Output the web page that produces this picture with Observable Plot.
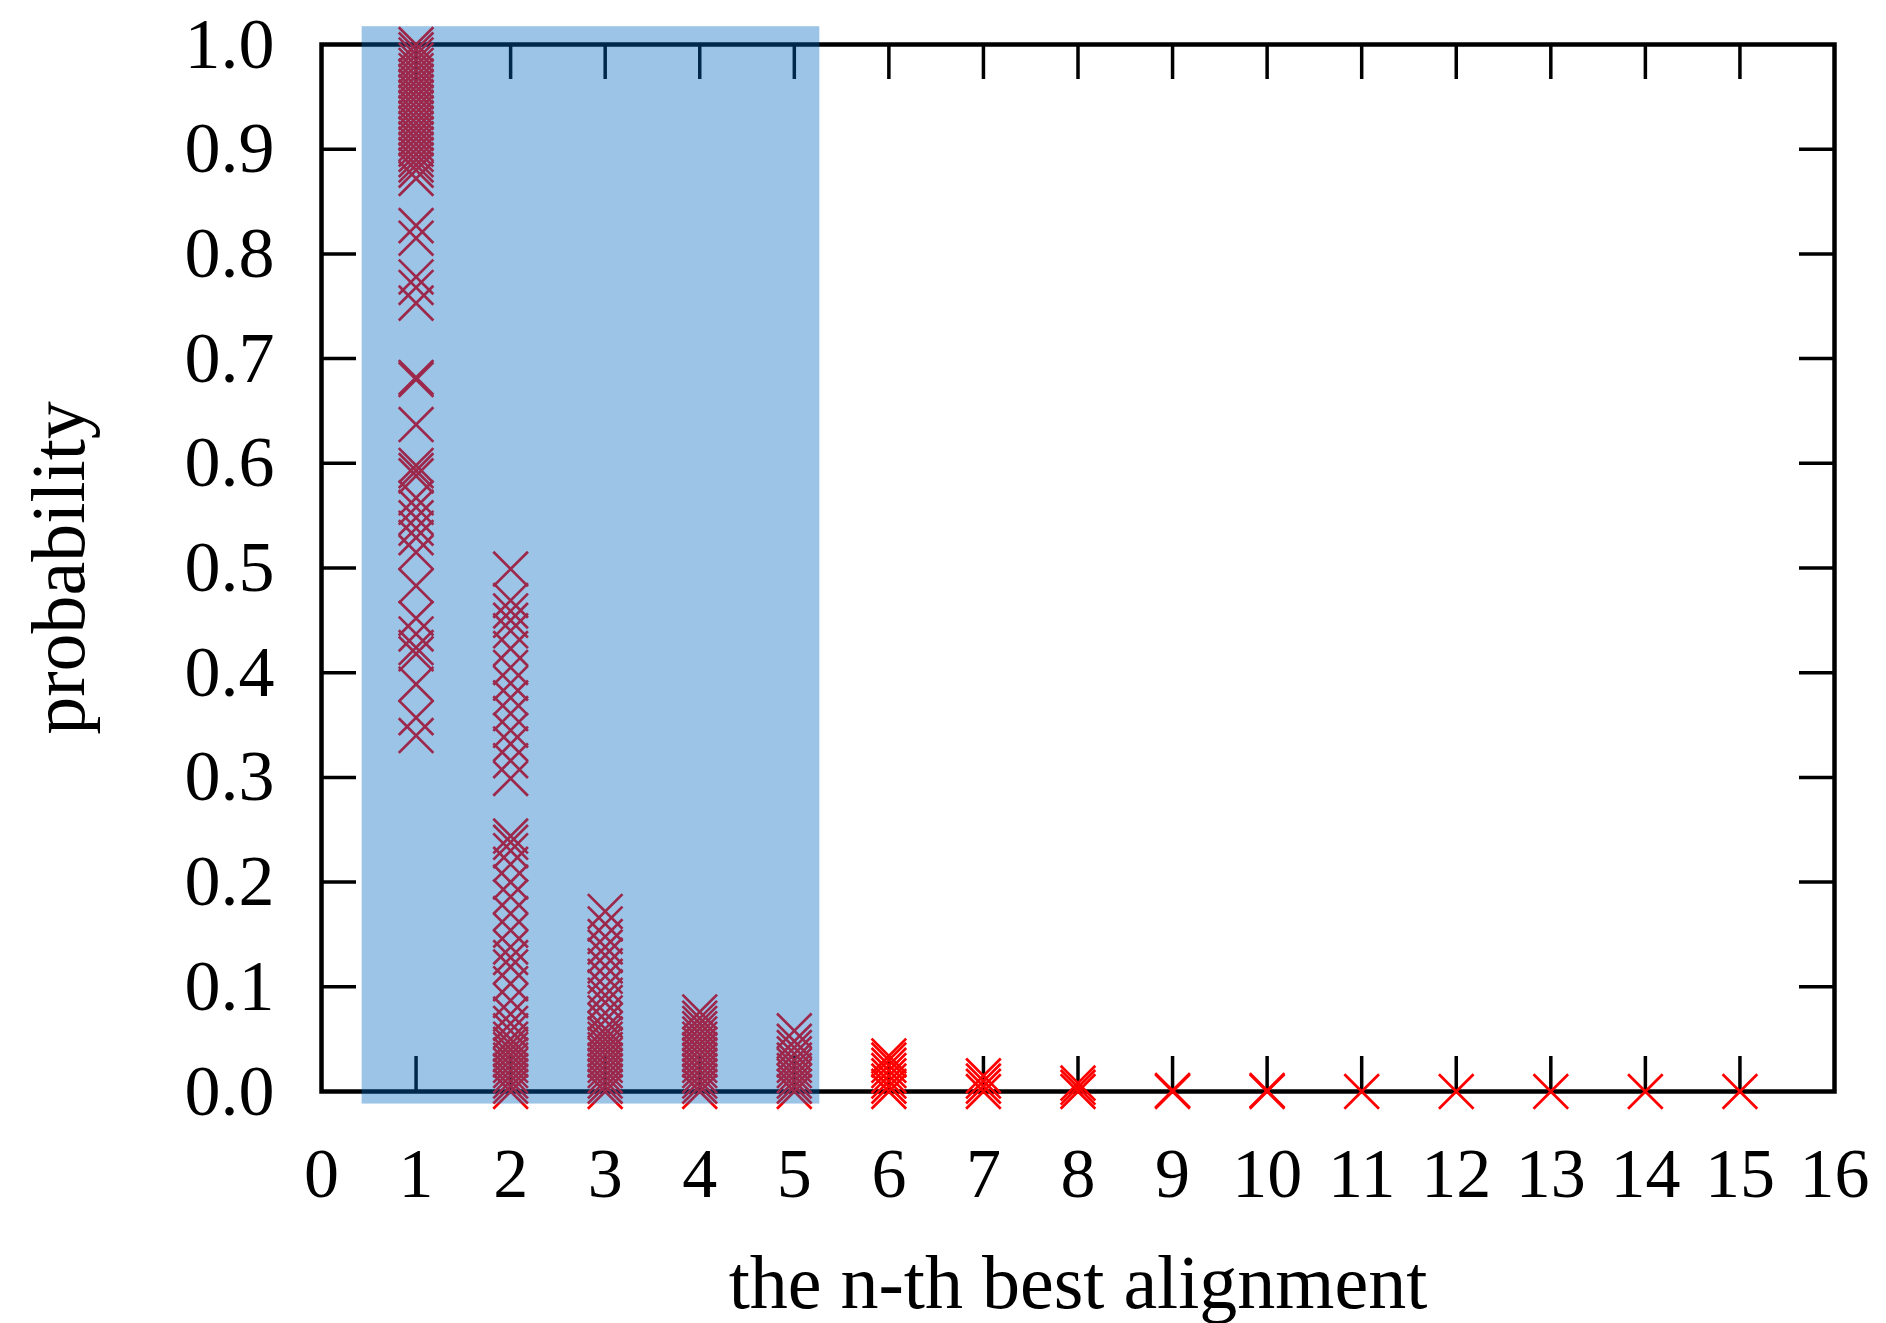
<!DOCTYPE html>
<html><head><meta charset="utf-8">
<script src="https://cdn.jsdelivr.net/npm/d3@7"></script>
<script src="https://cdn.jsdelivr.net/npm/@observablehq/plot@0.6"></script>
<style>body{margin:0;background:#fff}</style>
</head><body><div id="chart"></div>
<script>
// probability of the n-th best alignment (one list per n)
const col1 = [1.0, 0.995, 0.99, 0.985, 0.98, 0.975, 0.97, 0.965, 0.96, 0.955, 0.95, 0.945, 0.94, 0.935, 0.93, 0.925, 0.92, 0.915, 0.91, 0.905, 0.90, 0.895, 0.89, 0.885, 0.88, 0.872, 0.827, 0.815, 0.778, 0.768, 0.753, 0.682, 0.68, 0.637, 0.598, 0.593, 0.588, 0.567, 0.558, 0.548, 0.538, 0.529, 0.515, 0.483, 0.452, 0.437, 0.424, 0.418, 0.389, 0.357, 0.34];
const col2 = [0.499, 0.469, 0.459, 0.45, 0.44, 0.423, 0.405, 0.39, 0.376, 0.361, 0.345, 0.332, 0.316, 0.299, 0.244, 0.238, 0.23, 0.217, 0.2, 0.186, 0.17, 0.154, 0.138, 0.128, 0.119, 0.103, 0.087, 0.074, 0.065, 0.058, 0.05, 0.045, 0.04, 0.035, 0.03, 0.025, 0.02, 0.015, 0.01, 0.005, 0.0];
const col3 = [0.172, 0.16, 0.148, 0.138, 0.13, 0.12, 0.11, 0.1, 0.092, 0.085, 0.075, 0.068, 0.06, 0.055, 0.05, 0.045, 0.04, 0.035, 0.03, 0.025, 0.02, 0.015, 0.01, 0.005, 0.0];
const col4 = [0.076, 0.07, 0.065, 0.06, 0.055, 0.05, 0.045, 0.04, 0.035, 0.03, 0.025, 0.02, 0.015, 0.01, 0.005, 0.0];
const col5 = [0.058, 0.048, 0.042, 0.036, 0.03, 0.025, 0.02, 0.015, 0.01, 0.005, 0.0];
const col6 = [0.034, 0.03, 0.025, 0.02, 0.015, 0.01, 0.005, 0.0];
const col7 = [0.015, 0.01, 0.005, 0.0];
const col8 = [0.008, 0.004, 0.0];
const col9 = [0.001, 0.0];
const col10 = [0.001, 0.0];
const col11 = [0.0];
const col12 = [0.0];
const col13 = [0.0];
const col14 = [0.0];
const col15 = [0.0];
const columns = [col1, col2, col3, col4, col5, col6, col7, col8, col9, col10, col11, col12, col13, col14, col15];

const xTickValues = d3.range(0, 17);
const yTickValues = [0, 0.1, 0.2, 0.3, 0.4, 0.5, 0.6, 0.7, 0.8, 0.9, 1.0];
const xInnerTicks = d3.range(1, 16);
const yInnerTicks = [0.1, 0.2, 0.3, 0.4, 0.5, 0.6, 0.7, 0.8, 0.9];
const xLabel = "the n-th best alignment";
const yLabel = "probability";
// highlighted range (top-5 alignments)
const highlightX = [0.43, 5.27];
const highlightY = [-0.012, 1.017];

const points = columns.flatMap((vals, i) => vals.map(v => ({n: i + 1, p: v})));

const W = 1886, H = 1323;
const mL = 321, mR = 52, mT = 44, mB = 232;
const tickPx = 35;
const tickX = tickPx * 16 / (W - mL - mR);
const tickY = tickPx * 1 / (H - mT - mB);

const chart = Plot.plot({
  width: W, height: H,
  marginLeft: mL, marginRight: mR, marginTop: mT, marginBottom: mB,
  style: {fontFamily: "'Liberation Serif', 'Times New Roman', serif", fontSize: "70px", color: "black", background: "white"},
  x: {domain: [0, 16]},
  y: {domain: [0, 1]},
  marks: [
    // inner ticks (bottom, top, left, right)
    Plot.ruleX(xInnerTicks, {x: d => d, y1: 0, y2: tickY, stroke: "black", strokeWidth: 3.5}),
    Plot.ruleX(xInnerTicks, {x: d => d, y1: 1 - tickY, y2: 1, stroke: "black", strokeWidth: 3.5}),
    Plot.ruleY(yInnerTicks, {y: d => d, x1: 0, x2: tickX, stroke: "black", strokeWidth: 3.5}),
    Plot.ruleY(yInnerTicks, {y: d => d, x1: 16 - tickX, x2: 16, stroke: "black", strokeWidth: 3.5}),
    Plot.frame({stroke: "black", strokeWidth: 4.5}),
    Plot.dot(points, {x: "n", y: "p", symbol: "times", r: 15.8, stroke: "#ff0000", strokeWidth: 2.7}),
    Plot.rect([{x1: highlightX[0], x2: highlightX[1], y1: highlightY[0], y2: highlightY[1]}],
      {x1: "x1", x2: "x2", y1: "y1", y2: "y2", fill: "rgb(0,103,193)", fillOpacity: 0.39}),
    Plot.axisX({ticks: xTickValues, tickSize: 0, tickPadding: 56, tickFormat: d => String(d), label: null, fontSize: 70}),
    Plot.axisY({ticks: yTickValues, tickSize: 0, tickPadding: 47, tickFormat: d3.format(".1f"), label: null, fontSize: 72}),
    Plot.text([xLabel], {text: d => d, frameAnchor: "bottom", textAnchor: "middle", dy: 216, fontSize: 76}),
    Plot.text([yLabel], {text: d => d, frameAnchor: "left", textAnchor: "middle", rotate: -90, dx: -262, fontSize: 76})
  ]
});
document.getElementById("chart").appendChild(chart);
</script>
</body></html>
